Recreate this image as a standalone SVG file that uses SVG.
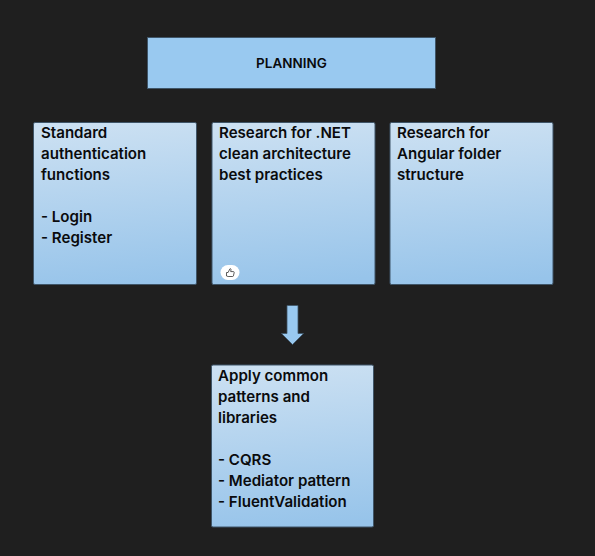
<svg xmlns="http://www.w3.org/2000/svg" width="595" height="556" viewBox="0 0 595 556">
<style>
.box{fill:url(#g);stroke:#3f5568;stroke-width:1}
text{font-family:"Inter","Noto Sans",sans-serif;fill:#0a0b0d;font-weight:600}
.t{font-size:15.1px}
</style>
<defs>
<linearGradient id="g" x1="0.45" y1="0" x2="0.55" y2="1"><stop offset="0" stop-color="#cbe0f2"/><stop offset="1" stop-color="#97c4ea"/></linearGradient>
</defs>
<rect width="595" height="556" fill="#1f1f1f"/>
<g id="planning"><rect x="147.500" y="37.500" width="288" height="51" fill="#99c9f0" stroke="#3f5568"/>
<text x="291.500" y="67.500" text-anchor="middle" font-size="13.500">PLANNING</text></g>
<g id="auth"><rect class="box" x="33.500" y="122.500" width="163" height="162" rx="1.500"/>
<text class="t" x="41" y="137.500">Standard</text><text class="t" x="41" y="158.500">authentication</text><text class="t" x="41" y="179.500">functions</text><text class="t" x="41" y="221.500">- Login</text><text class="t" x="41" y="242.500">- Register</text></g>
<g id="dotnet"><rect class="box" x="212" y="122.500" width="163" height="162" rx="1.500"/>
<text class="t" x="219" y="137.500">Research for .NET</text><text class="t" x="219" y="158.500">clean architecture</text><text class="t" x="219" y="179.500">best practices</text>
<rect x="220.500" y="265" width="19" height="15" rx="7.500" fill="#fff"/>
<path d="M226.500 272.500h1.600l1.700-3.500c.2-.6 1.300-.3 1.200.6l-.3 2h2.700c.6 0 .9.500.8 1l-.8 3.300c-.1.400-.4.600-.8.600h-4.500l-1.600-.5z" fill="none" stroke="#333" stroke-width=".8"/></g>
<g id="angular"><rect class="box" x="390" y="122.500" width="163" height="162" rx="1.500"/>
<text class="t" x="397" y="137.500">Research for</text><text class="t" x="397" y="158.500">Angular folder</text><text class="t" x="397" y="179.500">structure</text></g>
<g id="apply"><rect class="box" x="211.500" y="365" width="162" height="162" rx="1.500"/>
<text class="t" x="218" y="380.500">Apply common</text><text class="t" x="218" y="401.500">patterns and</text><text class="t" x="218" y="422.500">libraries</text><text class="t" x="218" y="464.500">- CQRS</text><text class="t" x="218" y="485.500">- Mediator pattern</text><text class="t" x="218" y="506.500">- FluentValidation</text></g>
<g id="connectors"><path d="M287 305.500h11v28h5.500l-11 11-11-11h5.500z" fill="#99c9f0" stroke="#3f5568" stroke-width=".8"/></g>
</svg>
